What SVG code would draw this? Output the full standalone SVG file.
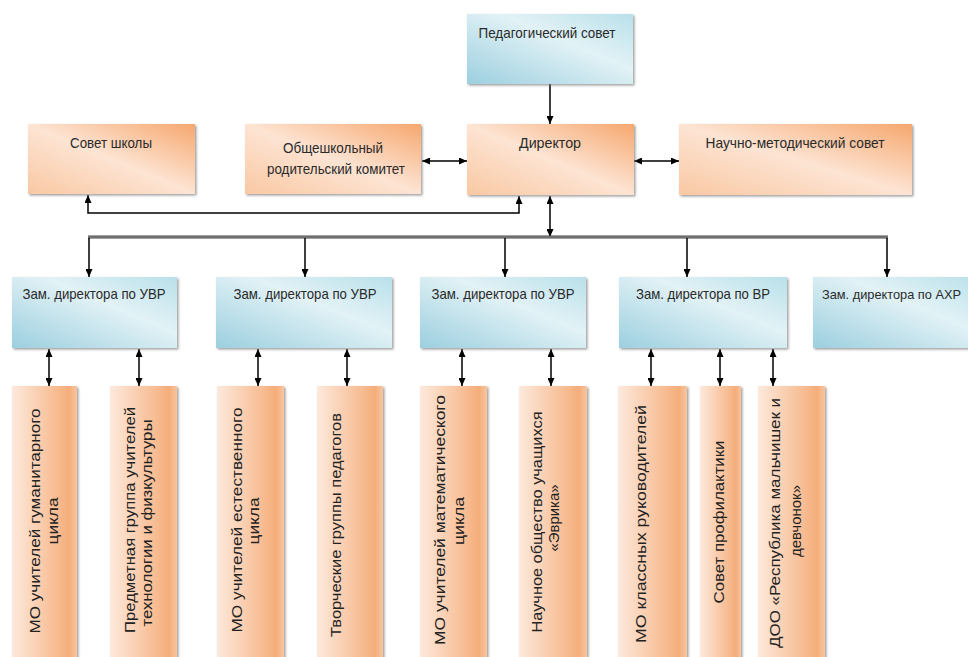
<svg xmlns="http://www.w3.org/2000/svg" width="968" height="657" viewBox="0 0 968 657">
<defs>
  <linearGradient id="gOr" x1="1" y1="0" x2="0" y2="1">
    <stop offset="0" stop-color="#f6a76e"/>
    <stop offset="0.5" stop-color="#fde4d3"/>
    <stop offset="1" stop-color="#f9c8a3"/>
  </linearGradient>
  <linearGradient id="gBl" x1="0" y1="1" x2="1" y2="0">
    <stop offset="0" stop-color="#9ccfdf"/>
    <stop offset="0.6" stop-color="#e2f2f6"/>
    <stop offset="1" stop-color="#b9e0ea"/>
  </linearGradient>
  <linearGradient id="gTall" x1="0" y1="0" x2="1" y2="0">
    <stop offset="0" stop-color="#fde9dc"/>
    <stop offset="0.7" stop-color="#f7bb90"/>
    <stop offset="0.88" stop-color="#f5ad7a"/>
    <stop offset="1" stop-color="#f8c6a0"/>
  </linearGradient>
  <filter id="sh" x="-10%" y="-10%" width="125%" height="125%">
    <feDropShadow dx="1.5" dy="1.5" stdDeviation="1" flood-color="#777" flood-opacity="0.7"/>
  </filter>
  <marker id="ah" viewBox="0 0 8 7" refX="8" refY="3.5" markerWidth="8" markerHeight="7" markerUnits="userSpaceOnUse" orient="auto-start-reverse">
    <path d="M0,0 L8,3.5 L0,7 z" fill="#000"/>
  </marker>
</defs>
<style>
  .or{fill:url(#gOr);filter:url(#sh)}
  .bl{fill:url(#gBl);filter:url(#sh)}
  .tl{fill:url(#gTall);filter:url(#sh)}
  .t{font-family:"Liberation Sans Narrow","Liberation Sans",Arial,sans-serif;font-size:15px;fill:#2a2a2a;text-anchor:middle}
  .v{font-family:"Liberation Sans",Arial,sans-serif;font-size:14px;fill:#222;text-anchor:middle}
  .c{fill:none;stroke:#000;stroke-width:1.5}
  .a2{marker-start:url(#ah);marker-end:url(#ah)}
  .a1{marker-end:url(#ah)}
</style>
<rect width="968" height="657" fill="#fff"/>

<g id="connectors">
  <line class="c a1" x1="550" y1="84" x2="550" y2="124"/>
  <line class="c a2" x1="422" y1="161" x2="467" y2="161"/>
  <line class="c a2" x1="634" y1="161" x2="679" y2="161"/>
  <path class="c a2" d="M88,195 L88,213 L519,213 L519,196"/>
  <line class="c a2" x1="550" y1="196" x2="550" y2="237"/>
  <line x1="88" y1="237" x2="888" y2="237" stroke="#444" stroke-width="3.2"/>
  <line x1="88" y1="237" x2="888" y2="237" stroke="#9a9a9a" stroke-width="1.2"/>
  <line class="c a1" x1="89" y1="238" x2="89" y2="277"/>
  <line class="c a1" x1="305" y1="238" x2="305" y2="277"/>
  <line class="c a1" x1="505" y1="238" x2="505" y2="277"/>
  <line class="c a1" x1="687" y1="238" x2="687" y2="277"/>
  <line class="c a1" x1="887" y1="238" x2="887" y2="277"/>
  <line class="c a2" x1="49" y1="349" x2="49" y2="386"/>
  <line class="c a2" x1="139" y1="349" x2="139" y2="386"/>
  <line class="c a2" x1="258" y1="349" x2="258" y2="386"/>
  <line class="c a2" x1="347" y1="349" x2="347" y2="386"/>
  <line class="c a2" x1="462" y1="349" x2="462" y2="386"/>
  <line class="c a2" x1="551" y1="349" x2="551" y2="386"/>
  <line class="c a2" x1="651" y1="349" x2="651" y2="386"/>
  <line class="c a2" x1="720" y1="349" x2="720" y2="386"/>
  <line class="c a2" x1="773" y1="349" x2="773" y2="386"/>
</g>

<g id="ped-sovet">
  <rect class="bl" x="467" y="14" width="166" height="70"/>
  <text class="t" x="547" y="38" textLength="137" lengthAdjust="spacingAndGlyphs">Педагогический совет</text>
</g>
<g id="sovet-shkoly">
  <rect class="or" x="28" y="124" width="167" height="70"/>
  <text class="t" x="111" y="148" textLength="82" lengthAdjust="spacingAndGlyphs">Совет школы</text>
</g>
<g id="rod-komitet">
  <rect class="or" x="245" y="124" width="176" height="70"/>
  <text class="t" x="333" y="153" textLength="100" lengthAdjust="spacingAndGlyphs">Общешкольный</text>
  <text class="t" x="336" y="174" textLength="138" lengthAdjust="spacingAndGlyphs">родительский комитет</text>
</g>
<g id="direktor">
  <rect class="or" x="467" y="124" width="167" height="71"/>
  <text class="t" x="550" y="148" textLength="62" lengthAdjust="spacingAndGlyphs">Директор</text>
</g>
<g id="nms">
  <rect class="or" x="679" y="124" width="233" height="71"/>
  <text class="t" x="795" y="148" textLength="179" lengthAdjust="spacingAndGlyphs">Научно-методический совет</text>
</g>

<g id="zam1">
  <rect class="bl" x="12" y="277" width="165" height="71"/>
  <text class="t" x="94" y="299" textLength="143" lengthAdjust="spacingAndGlyphs">Зам. директора по УВР</text>
</g>
<g id="zam2">
  <rect class="bl" x="216" y="277" width="176" height="71"/>
  <text class="t" x="305" y="299" textLength="143" lengthAdjust="spacingAndGlyphs">Зам. директора по УВР</text>
</g>
<g id="zam3">
  <rect class="bl" x="420" y="277" width="166" height="71"/>
  <text class="t" x="503" y="299" textLength="143" lengthAdjust="spacingAndGlyphs">Зам. директора по УВР</text>
</g>
<g id="zam4">
  <rect class="bl" x="619" y="277" width="168" height="71"/>
  <text class="t" x="703" y="299" textLength="134" lengthAdjust="spacingAndGlyphs">Зам. директора по ВР</text>
</g>
<g id="zam5">
  <rect class="bl" x="813" y="277" width="170" height="71"/>
  <text class="t" x="822" y="299" style="text-anchor:start;font-size:13px" textLength="139" lengthAdjust="spacingAndGlyphs">Зам. директора по АХР</text>
</g>

<g id="b1">
  <rect class="tl" x="12" y="386" width="65" height="290"/>
  <text class="v" transform="translate(40,521) rotate(-90)" textLength="225" lengthAdjust="spacingAndGlyphs">МО учителей гуманитарного</text>
  <text class="v" transform="translate(58,521) rotate(-90)" textLength="47" lengthAdjust="spacingAndGlyphs">цикла</text>
</g>
<g id="b2">
  <rect class="tl" x="110" y="386" width="67" height="290"/>
  <text class="v" transform="translate(135,520) rotate(-90)" textLength="226" lengthAdjust="spacingAndGlyphs">Предметная группа учителей</text>
  <text class="v" transform="translate(152,523) rotate(-90)" textLength="207" lengthAdjust="spacingAndGlyphs">технологии и физкультуры</text>
</g>
<g id="b3">
  <rect class="tl" x="217" y="386" width="67" height="290"/>
  <text class="v" transform="translate(242,520) rotate(-90)" textLength="225" lengthAdjust="spacingAndGlyphs">МО учителей  естественного</text>
  <text class="v" transform="translate(259,521) rotate(-90)" textLength="47" lengthAdjust="spacingAndGlyphs">цикла</text>
</g>
<g id="b4">
  <rect class="tl" x="317" y="386" width="66" height="290"/>
  <text class="v" transform="translate(341,525) rotate(-90)" textLength="224" lengthAdjust="spacingAndGlyphs">Творческие группы педагогов</text>
</g>
<g id="b5">
  <rect class="tl" x="420" y="386" width="67" height="290"/>
  <text class="v" transform="translate(445,520) rotate(-90)" textLength="250" lengthAdjust="spacingAndGlyphs">МО учителей  математического</text>
  <text class="v" transform="translate(464,521) rotate(-90)" textLength="48" lengthAdjust="spacingAndGlyphs">цикла</text>
</g>
<g id="b6">
  <rect class="tl" x="519" y="386" width="68" height="290"/>
  <text class="v" transform="translate(542,522) rotate(-90)" textLength="221" lengthAdjust="spacingAndGlyphs">Научное общество учащихся</text>
  <text class="v" transform="translate(559,518) rotate(-90)" textLength="67" lengthAdjust="spacingAndGlyphs">«Эврика»</text>
</g>
<g id="b7">
  <rect class="tl" x="618" y="386" width="69" height="290"/>
  <text class="v" transform="translate(646,524) rotate(-90)" textLength="238" lengthAdjust="spacingAndGlyphs">МО классных руководителей</text>
</g>
<g id="b8">
  <rect class="tl" x="700" y="386" width="41" height="290"/>
  <text class="v" transform="translate(724,522) rotate(-90)" textLength="163" lengthAdjust="spacingAndGlyphs">Совет профилактики</text>
</g>
<g id="b9">
  <rect class="tl" x="758" y="386" width="67" height="290"/>
  <text class="v" transform="translate(780,523) rotate(-90)" textLength="250" lengthAdjust="spacingAndGlyphs">ДОО «Республика мальчишек и</text>
  <text class="v" transform="translate(801,521) rotate(-90)" textLength="72" lengthAdjust="spacingAndGlyphs">девчонок»</text>
</g>
</svg>
